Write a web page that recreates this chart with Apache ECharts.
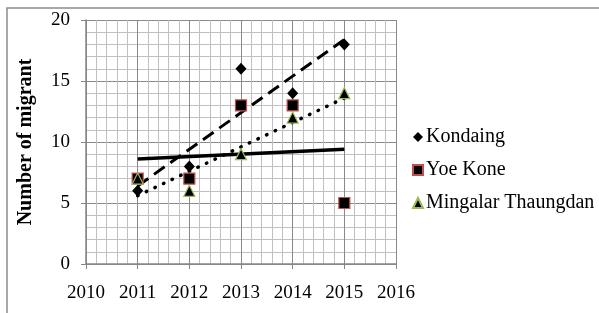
<!DOCTYPE html>
<html>
<head>
<meta charset="utf-8">
<script src="https://cdn.jsdelivr.net/npm/echarts@6/dist/echarts.min.js"></script>
<style>
  html, body { margin: 0; padding: 0; background: #fff; }
  #chart { width: 599px; height: 313px; }
</style>
</head>
<body>
<div id="chart"></div>
<script>
  const years = [2011, 2012, 2013, 2014, 2015];
  const kondaing = [6, 8, 16, 14, 18];
  const yoeKone = [7, 7, 13, 13, 5];
  const mingalar = [7, 6, 9, 12, 14];
  const xTicks = [2010, 2011, 2012, 2013, 2014, 2015, 2016];
  const yTicks = [0, 5, 10, 15, 20];

  // least squares trend, drawn between the first and last year
  function trend(ys) {
    const n = ys.length;
    const mx = years.reduce((a, b) => a + b, 0) / n;
    const my = ys.reduce((a, b) => a + b, 0) / n;
    let num = 0, den = 0;
    years.forEach((x, i) => {
      num += (x - mx) * (ys[i] - my);
      den += (x - mx) * (x - mx);
    });
    const k = num / den;
    const x0 = years[0], x1 = years[n - 1];
    return [[x0, my + k * (x0 - mx)], [x1, my + k * (x1 - mx)]];
  }

  const pairs = (ys) => years.map((x, i) => [x, ys[i]]);
  const font = 'Liberation Serif';

  const trendLine = (ys, dash, width, cap) => ({
    type: 'line',
    data: trend(ys),
    symbol: 'none',
    silent: true,
    z: 3,
    lineStyle: { color: '#000', width: width, type: dash, cap: cap },
  });

  const chart = echarts.init(document.getElementById('chart'));

  chart.setOption({
    animation: false,
    graphic: [
      {
        type: 'rect',
        shape: { x: 7, y: 8, width: 620, height: 340 },
        style: { fill: 'none', stroke: '#8c8c8c', lineWidth: 1.5 },
        silent: true,
      },
    ],
    grid: { left: 86, right: 203, top: 20, bottom: 49 },
    legend: {
      orient: 'vertical',
      left: 407,
      top: 122,
      itemGap: 13,
      itemWidth: 10,
      itemHeight: 10,
      data: ['Kondaing', 'Yoe Kone', 'Mingalar Thaungdan'],
      textStyle: { fontFamily: font, fontSize: 20, color: '#000', padding: [0, 0, 0, -2] },
    },
    xAxis: {
      type: 'value',
      min: xTicks[0],
      max: xTicks[xTicks.length - 1],
      interval: 1,
      axisLine: { show: true, onZero: false, lineStyle: { color: '#868686', width: 1.5 } },
      axisTick: { show: true, length: 5, lineStyle: { color: '#868686' } },
      axisLabel: { color: '#000', fontFamily: font, fontSize: 19, margin: 20, formatter: (v) => String(v) },
      splitLine: { show: true, lineStyle: { color: '#8a8a8a', width: 1 } },
      minorSplitLine: { show: true, lineStyle: { color: '#c0c0c0', width: 1 } },
      minorTick: { show: false, splitNumber: 5 },
    },
    yAxis: {
      type: 'value',
      min: yTicks[0],
      max: yTicks[yTicks.length - 1],
      interval: 5,
      name: 'Number of migrant',
      nameLocation: 'middle',
      nameGap: 50,
      nameTextStyle: { fontFamily: font, fontSize: 20, fontWeight: 'bold', color: '#000' },
      axisLine: { show: true, lineStyle: { color: '#868686', width: 1.5 } },
      axisTick: { show: true, length: 5, lineStyle: { color: '#868686' } },
      axisLabel: { color: '#000', fontFamily: font, fontSize: 19, margin: 16 },
      splitLine: { show: true, lineStyle: { color: '#8a8a8a', width: 1 } },
      minorSplitLine: { show: true, lineStyle: { color: '#c0c0c0', width: 1 } },
      minorTick: { show: false, splitNumber: 5 },
    },
    series: [
      {
        name: 'Kondaing',
        type: 'scatter',
        data: pairs(kondaing),
        symbol: 'diamond',
        symbolSize: [11, 12],
        z: 4,
        itemStyle: { color: '#000', opacity: 1 },
      },
      {
        name: 'Yoe Kone',
        type: 'scatter',
        data: pairs(yoeKone),
        symbol: 'rect',
        symbolSize: 11,
        z: 4,
        itemStyle: { color: '#000', borderColor: '#c0504d', borderWidth: 1.2, opacity: 1 },
      },
      {
        name: 'Mingalar Thaungdan',
        type: 'scatter',
        data: pairs(mingalar),
        symbol: 'triangle',
        symbolSize: 11,
        z: 4,
        itemStyle: { color: '#000', borderColor: '#9bbb59', borderWidth: 1.2, opacity: 1 },
      },
      trendLine(kondaing, [13, 7], 3, 'butt'),
      trendLine(yoeKone, 'solid', 3.5, 'butt'),
      trendLine(mingalar, [0.5, 9], 3.5, 'round'),
    ],
  });
</script>
</body>
</html>
